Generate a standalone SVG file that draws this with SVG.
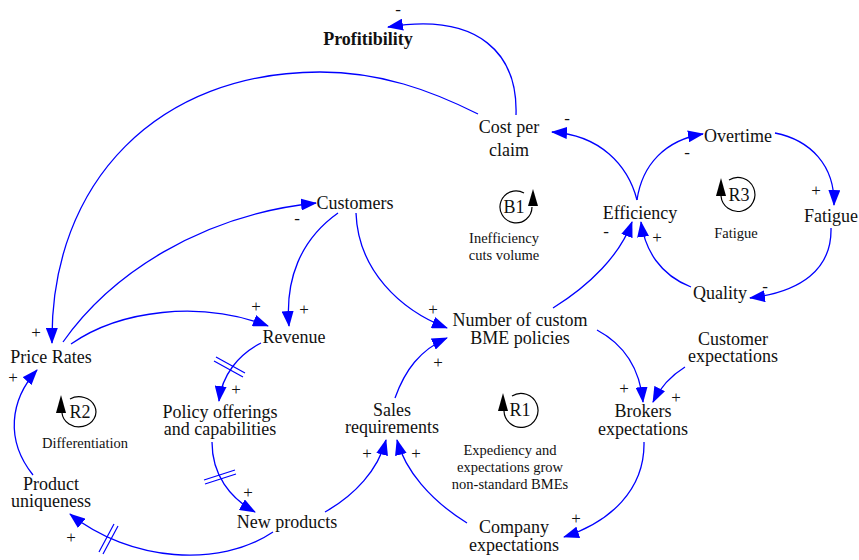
<svg xmlns="http://www.w3.org/2000/svg" width="859" height="560" viewBox="0 0 859 560">
<style>
.n{font-family:"Liberation Serif","Times New Roman",serif;font-size:18px;fill:#111;text-anchor:middle}
.b{font-weight:bold}
.l{font-family:"Liberation Serif","Times New Roman",serif;font-size:14.5px;fill:#111;text-anchor:middle}
.s{font-family:"Liberation Serif","Times New Roman",serif;font-size:17px;fill:#111;text-anchor:middle}
.c{fill:none;stroke:#0000ff;stroke-width:1.3;marker-end:url(#a)}
.h{fill:none;stroke:#0000ff;stroke-width:1.2}
.lp{fill:none;stroke:#000;stroke-width:1.2}
</style>
<defs>
<marker id="a" markerWidth="16" markerHeight="12" refX="15" refY="6" orient="auto" markerUnits="userSpaceOnUse">
<path d="M0,0 L16,6 L0,12 z" fill="#0000ff"/>
</marker>
</defs>
<rect width="859" height="560" fill="#fff"/>
<g id="connectors">
<path class="c" d="M516,115 C518,55 480,12 388,27"/>
<path class="c" d="M478,114 C430,90 380,72 320,72 C160,72 50,180 52,343"/>
<path class="c" d="M63,342 C110,275 200,215 316,203"/>
<path class="c" d="M71,344 C120,310 200,300 268,326"/>
<path class="c" d="M338,213 C300,240 285,280 289,326"/>
<path class="c" d="M356,213 C358,270 400,310 447,328"/>
<path class="c" d="M395,398 C405,370 420,350 447,338"/>
<path class="c" d="M553,308 C590,285 620,255 632,222"/>
<path class="c" d="M691,287 C660,275 645,250 641,222"/>
<path class="c" d="M637,200 C628,165 600,135 552,132"/>
<path class="c" d="M637,200 C642,165 665,140 703,134"/>
<path class="c" d="M775,133 C810,140 835,165 834,205"/>
<path class="c" d="M831,228 C832,270 800,292 750,298"/>
<path class="c" d="M597,330 C625,345 640,370 643,402"/>
<path class="c" d="M685,367 C672,375 660,388 653,402"/>
<path class="c" d="M644,442 C645,490 610,522 564,537"/>
<path class="c" d="M467,523 C430,500 405,470 397,440"/>
<path class="c" d="M325,512 C355,495 378,470 386,440"/>
<path class="c" d="M261,343 C238,355 222,375 219,401"/>
<path class="c" d="M212,442 C212,475 230,498 255,512"/>
<path class="c" d="M273,532 C220,568 130,562 70,514"/>
<path class="c" d="M33,475 C5,440 10,400 37,370"/>
<path class="h" d="M216,357 L245,373 M214,361 L243,377"/>
<path class="h" d="M204,480 L235,470 M205,484 L236,474"/>
<path class="h" d="M99,552 L114,524 M103,554 L118,526"/>
<text class="s" x="398" y="15">-</text>
<text class="s" x="567" y="124">-</text>
<text class="s" x="36" y="338">+</text>
<text class="s" x="297" y="224">-</text>
<text class="s" x="256" y="312">+</text>
<text class="s" x="304" y="315">+</text>
<text class="s" x="433" y="315">+</text>
<text class="s" x="438" y="368">+</text>
<text class="s" x="606" y="237">-</text>
<text class="s" x="657" y="243">+</text>
<text class="s" x="687" y="158">-</text>
<text class="s" x="816" y="196">+</text>
<text class="s" x="765" y="292">-</text>
<text class="s" x="624" y="394">+</text>
<text class="s" x="676" y="403">+</text>
<text class="s" x="576" y="524">+</text>
<text class="s" x="367" y="459">+</text>
<text class="s" x="416" y="459">+</text>
<text class="s" x="236" y="395">+</text>
<text class="s" x="248" y="498">+</text>
<text class="s" x="71" y="543">+</text>
<text class="s" x="13" y="383">+</text>
</g>
<g id="profitibility"><text class="n b" x="368" y="45">Profitibility</text></g>
<g id="cost-per-claim"><text class="n" x="509" y="133">Cost per</text><text class="n" x="509" y="156">claim</text></g>
<g id="overtime"><text class="n" x="738" y="142">Overtime</text></g>
<g id="efficiency"><text class="n" x="640" y="219">Efficiency</text></g>
<g id="fatigue"><text class="n" x="831" y="222">Fatigue</text></g>
<g id="quality"><text class="n" x="720" y="299">Quality</text></g>
<g id="customers"><text class="n" x="355" y="209">Customers</text></g>
<g id="revenue"><text class="n" x="294" y="343">Revenue</text></g>
<g id="price-rates"><text class="n" x="51" y="363">Price Rates</text></g>
<g id="number-bme"><text class="n" x="520" y="326">Number of custom</text><text class="n" x="520" y="344">BME policies</text></g>
<g id="customer-expectations"><text class="n" x="733" y="345">Customer</text><text class="n" x="733" y="362">expectations</text></g>
<g id="brokers-expectations"><text class="n" x="643" y="417">Brokers</text><text class="n" x="643" y="435">expectations</text></g>
<g id="policy-offerings"><text class="n" x="220" y="418">Policy offerings</text><text class="n" x="220" y="435">and capabilities</text></g>
<g id="sales-requirements"><text class="n" x="392" y="416">Sales</text><text class="n" x="392" y="433">requirements</text></g>
<g id="product-uniqueness"><text class="n" x="51" y="490">Product</text><text class="n" x="51" y="507">uniqueness</text></g>
<g id="new-products"><text class="n" x="287" y="528">New products</text></g>
<g id="company-expectations"><text class="n" x="514" y="533">Company</text><text class="n" x="514" y="551">expectations</text></g>
<g id="loop-b1">
<path class="lp" d="M532,207 A16,16 0 1 1 524,193"/>
<polygon points="533,189 528,206 538,206" fill="#000"/>
<text class="n" x="514" y="213">B1</text>
<text class="l" x="504" y="243">Inefficiency</text><text class="l" x="504" y="260">cuts volume</text>
</g>
<g id="loop-r3">
<path class="lp" d="M721,196 A17,17 0 1 0 729,180"/>
<polygon points="721,178 716,196 726,196" fill="#000"/>
<text class="n" x="739" y="201">R3</text>
<text class="l" x="736" y="238">Fatigue</text>
</g>
<g id="loop-r2">
<path class="lp" d="M62,413 A17,15 0 1 0 70,399"/>
<polygon points="61,395 56,413 66,413" fill="#000"/>
<text class="n" x="80" y="418">R2</text>
<text class="l" x="85" y="448">Differentiation</text>
</g>
<g id="loop-r1">
<path class="lp" d="M504,411 A17,17 0 1 0 512,396"/>
<polygon points="503,393 498,411 508,411" fill="#000"/>
<text class="n" x="520" y="416">R1</text>
<text class="l" x="510" y="455">Expediency and</text>
<text class="l" x="510" y="472">expectations grow</text>
<text class="l" x="510" y="489">non-standard BMEs</text>
</g>
</svg>
